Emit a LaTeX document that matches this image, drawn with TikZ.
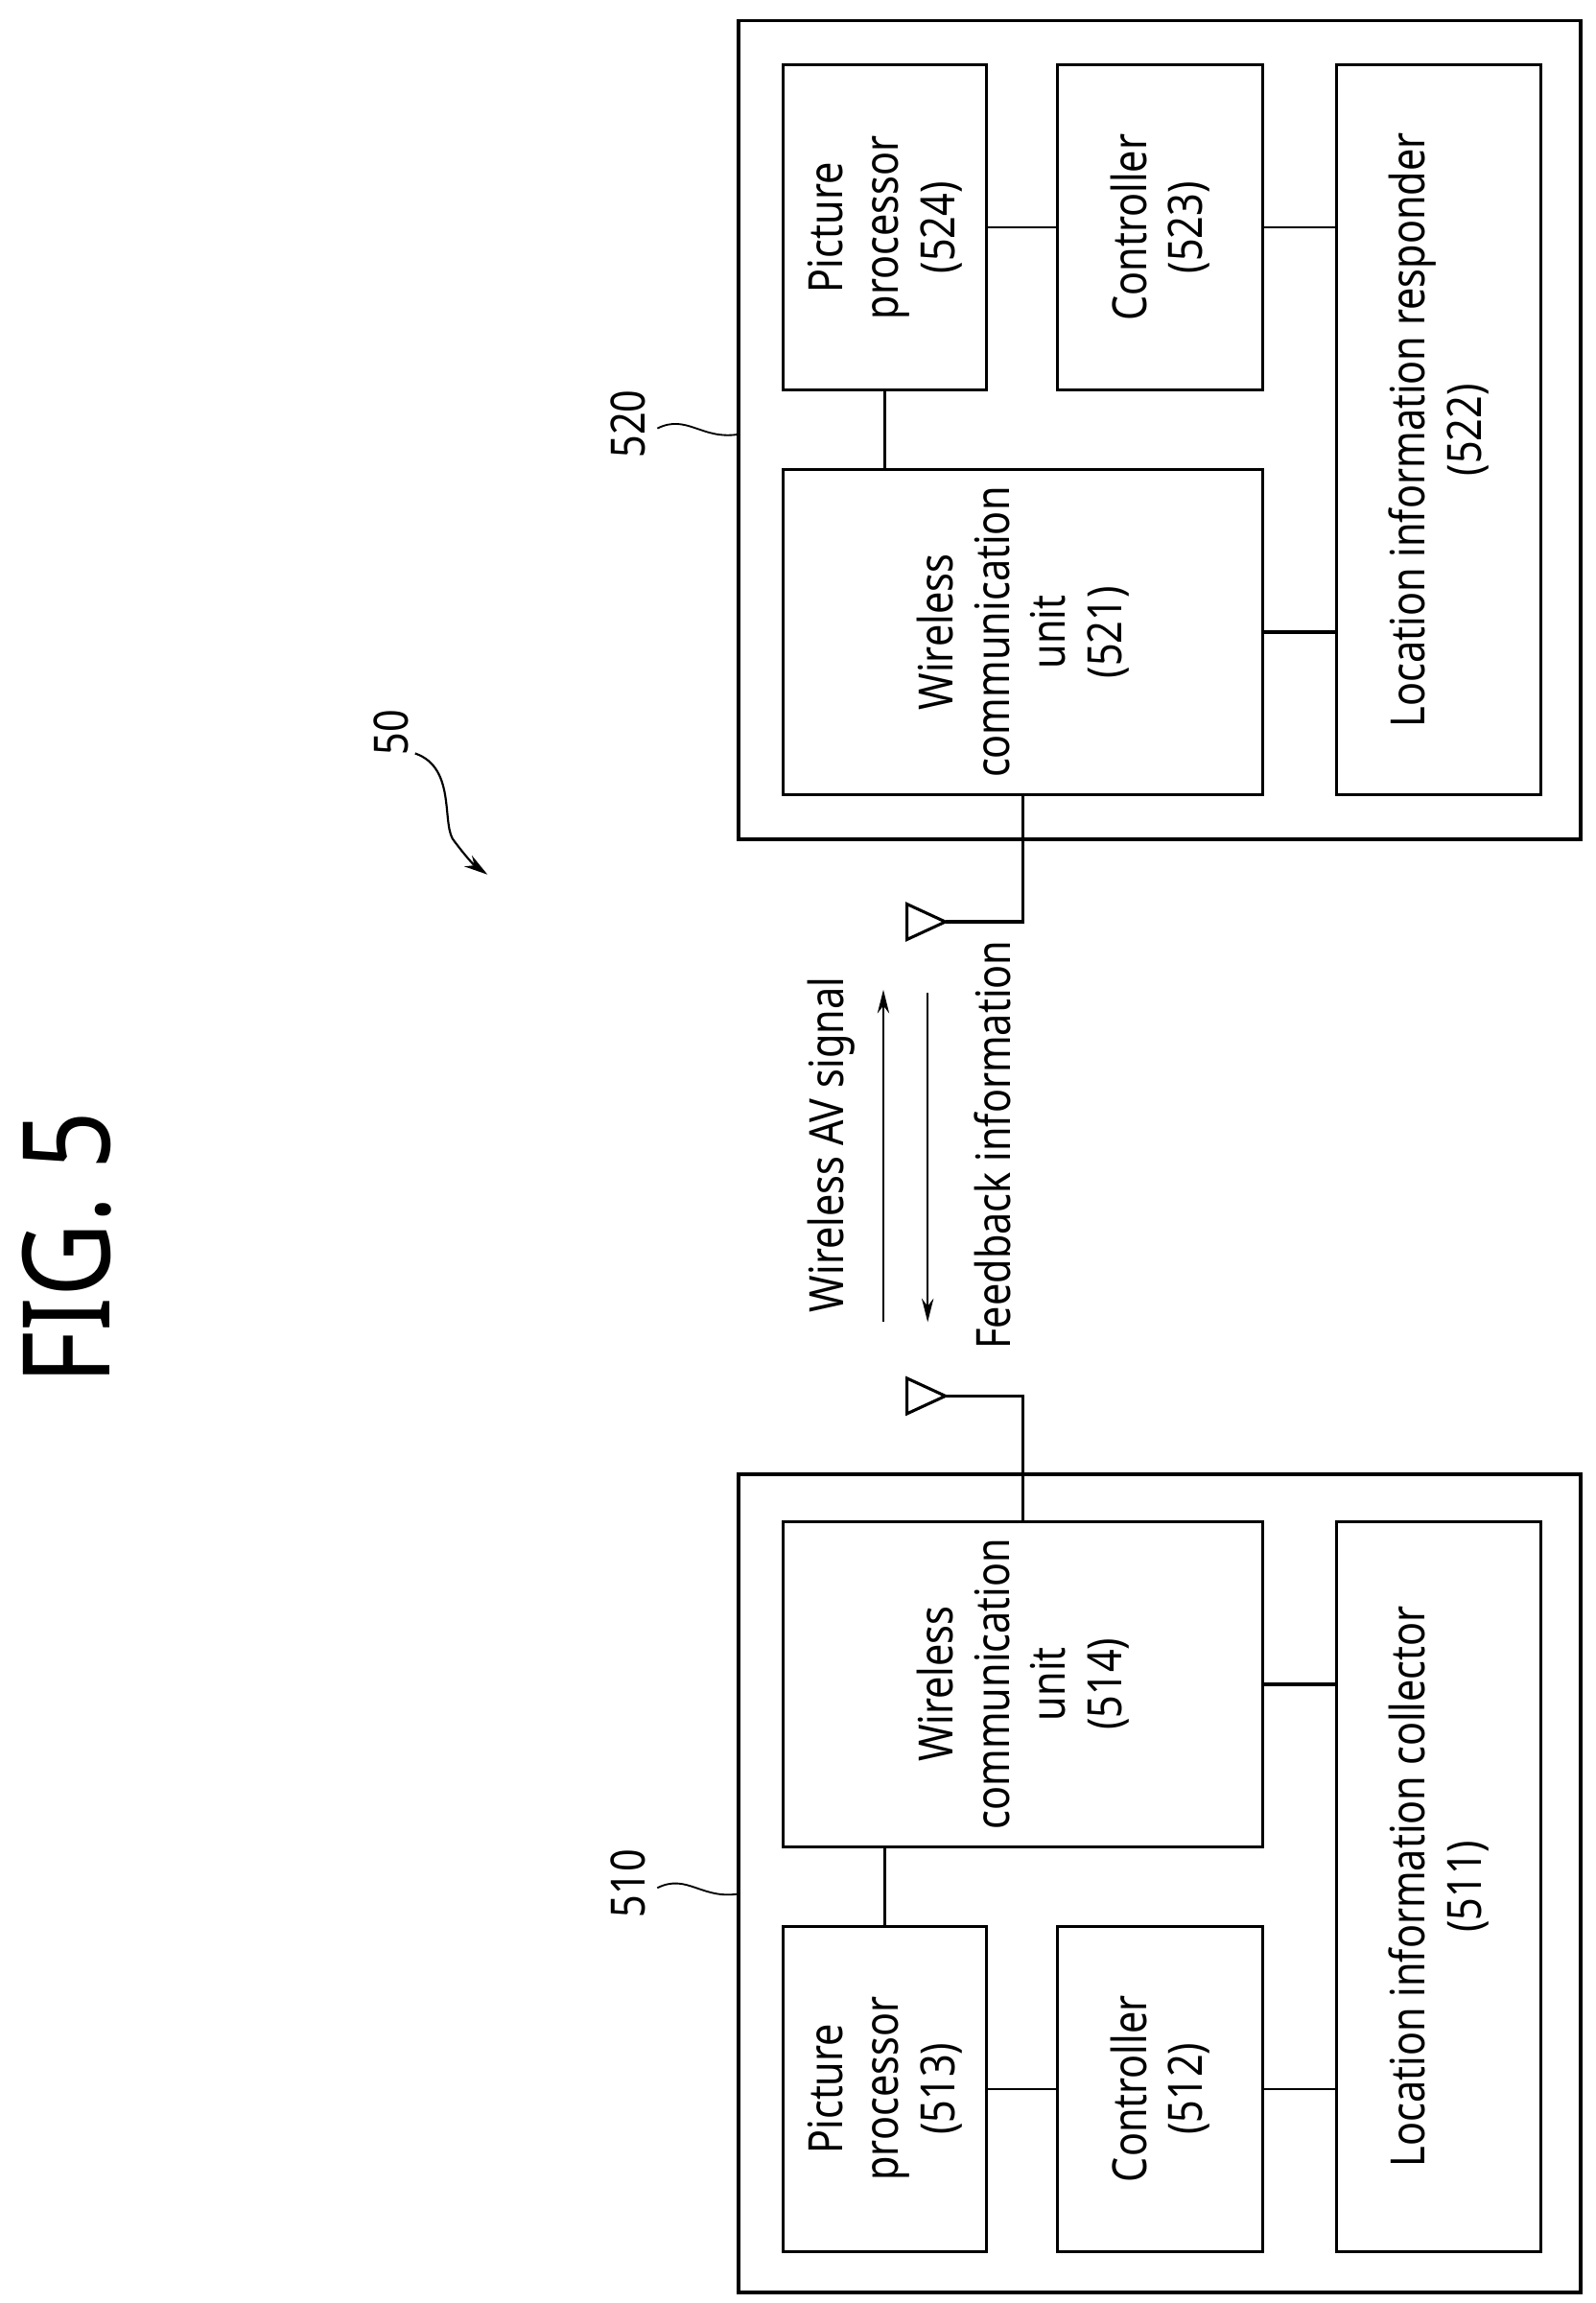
\documentclass[tikz,border=0pt]{standalone}
\usepackage{fontspec}
\setmainfont{Noto Sans}[FakeStretch=0.84]
\usetikzlibrary{arrows.meta}
\begin{document}
\begin{tikzpicture}[x=1pt,y=-1pt,
  outer/.style={draw,line width=2.4pt,rectangle,inner sep=0pt},
  box/.style={draw,line width=2pt,rectangle,inner sep=0pt},
  txt/.style={rotate=90,align=center,font=\fontsize{32}{38}\selectfont},
  conn/.style={line width=1.4pt},
  conb/.style={line width=2.4pt}]
\useasboundingbox (0,0) rectangle (1080,1559);
% FIG label
\node[rotate=90,font=\fontsize{82}{90}\selectfont] (fig) at (45,845) {FIG. 5};
% device 520
\node[outer,minimum width=570pt,minimum height=554pt] (o520) at (785,291) {};
\node[box,minimum width=138pt,minimum height=220pt] (p524) at (599,154) {};
\node[box,minimum width=139pt,minimum height=220pt] (c523) at (785.5,154) {};
\node[box,minimum width=138pt,minimum height=494pt] (l522) at (974,291) {};
\node[box,minimum width=325pt,minimum height=220pt] (w521) at (692.5,428) {};
\node[txt] at (p524) {Picture\\processor\\(524)};
\node[txt] at (c523) {Controller\\(523)};
\node[txt] at (l522) {Location information responder\\(522)};
\node[txt] at (w521) {Wireless\\communication\\unit\\(521)};
\draw[conn] (p524.east) -- (c523.west);
\draw[conn] (c523.east) -- (l522.west |- c523.east);
\draw[conb] (p524.south) -- (p524.south |- w521.north);
\draw[conb] (w521.east) -- (w521.east -| l522.west);
% device 510
\node[outer,minimum width=570pt,minimum height=554pt] (o510) at (785,1275) {};
\node[box,minimum width=325pt,minimum height=220pt] (w514) at (692.5,1140) {};
\node[box,minimum width=138pt,minimum height=220pt] (p513) at (599,1414) {};
\node[box,minimum width=139pt,minimum height=220pt] (c512) at (785.5,1414) {};
\node[box,minimum width=138pt,minimum height=494pt] (l511) at (974,1277) {};
\node[txt] at (p513) {Picture\\processor\\(513)};
\node[txt] at (c512) {Controller\\(512)};
\node[txt] at (l511) {Location information collector\\(511)};
\node[txt] at (w514) {Wireless\\communication\\unit\\(514)};
\draw[conn] (p513.east) -- (c512.west);
\draw[conn] (c512.east) -- (l511.west |- c512.east);
\draw[conb] (p513.north) -- (p513.north |- w514.south);
\draw[conb] (w514.east) -- (w514.east -| l511.west);
% antennas
\coordinate (a1) at (640,624);
\coordinate (a2) at (640,945);
\draw[conb] (w521.south) |- (a1);
\draw[conb] (w514.north) |- (a2);
\draw[line width=2pt,line join=miter] (a1) -- (614,612) -- (614,636) -- cycle;
\draw[line width=2pt,line join=miter] (a2) -- (614,933) -- (614,957) -- cycle;
% signal arrows
\coordinate (s1) at (598,895); \coordinate (s2) at (598,670);
\coordinate (f1) at (628,672); \coordinate (f2) at (628,895);
\draw[line width=1.4pt,-{Stealth[length=16pt,width=8pt]}] (s1) -- (s2);
\draw[line width=1.4pt,-{Stealth[length=16pt,width=8pt]}] (f1) -- (f2);
\node[txt] (lav) at (563,775) {Wireless AV signal};
\node[txt] (lfb) at (672,775) {Feedback information};
% reference numerals
\node[txt] (n520) at (425,287) {520};
\node[txt] (n510) at (425,1275) {510};
\node[txt] (n50) at (265,496) {50};
\draw[line width=1.2pt] (445,290) .. controls (465,280) and (475,298) .. (500,294);
\draw[line width=1.2pt] (445,1278) .. controls (465,1268) and (475,1286) .. (500,1282);
\draw[line width=1.4pt,-{Stealth[length=16pt,width=9pt]}] (281,510) .. controls (310,520) and (298,560) .. (308,570) .. controls (314,578) and (320,585) .. (330,592);
\end{tikzpicture}
\end{document}
